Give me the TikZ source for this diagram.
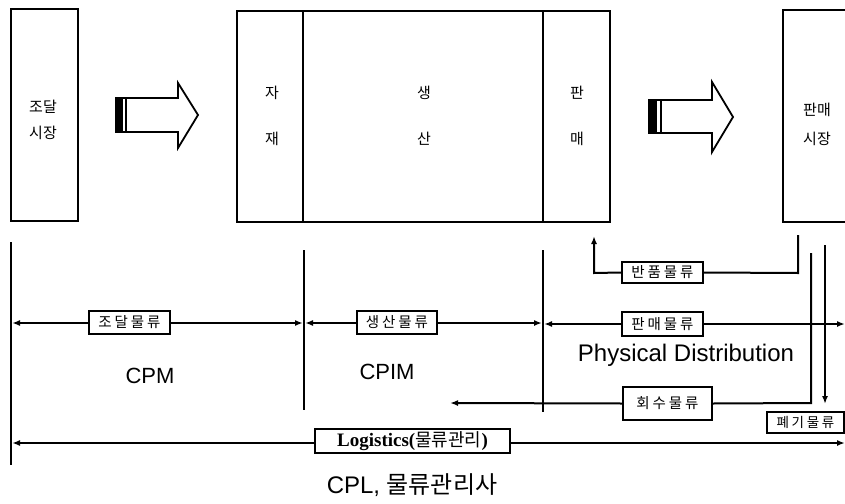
\documentclass[tikz,border=0pt]{standalone}
\usepackage{fontspec}
\setmainfont{Liberation Sans}
\newfontfamily\kr{Noto Sans CJK KR}
\newfontfamily\krs[LetterSpace=20]{Noto Sans CJK KR}
\newfontfamily\tms{Liberation Serif}
\usetikzlibrary{arrows.meta}
\begin{document}
\begin{tikzpicture}[x=1pt,y=-1pt,line join=miter,
  blk/.style={draw,line width=2.2pt},
  ln/.style={line width=2pt},
  arr/.style={ln,-{Latex[length=8pt,width=6pt]}},
  lab/.style={draw,line width=2pt,fill=white,inner sep=0pt,font=\krs\fontsize{14.5}{14.5}\selectfont},
  big/.style={font=\kr\fontsize{15}{15}\selectfont,inner sep=0pt},
  ttl/.style={font=\fontsize{22}{22}\selectfont,inner sep=0pt}]
\useasboundingbox (0,0) rectangle (845,503);

% top boxes
\draw[blk] (11,9) rectangle (78,221);
\node[big] (t1) at (43,107) {조달};
\node[big] (t2) at (43,133) {시장};

\draw[blk] (237,11) rectangle (610,222);
\draw[blk] (303,11) -- (303,222);
\draw[blk] (543,11) -- (543,222);
\node[big] (ja) at (272,93) {자};
\node[big] (jae) at (272,139) {재};
\node[big] (sa) at (424,93) {생};
\node[big] (san) at (424,139) {산};
\node[big] (pa) at (577,93) {판};
\node[big] (mae) at (577,139) {매};

\draw[blk] (850,10) -- (783,10) -- (783,222) -- (850,222);
\node[big] (m1) at (817,110) {판매};
\node[big] (m2) at (817,139) {시장};

% block arrows
\draw[line width=1.8pt,fill=white] (116,98) -- (178,98) -- (178,83) -- (198,115) -- (178,148) -- (178,132) -- (116,132) -- cycle;
\fill (116,98) rectangle (123,132);
\draw[line width=1.5pt] (126,98) -- (126,132);

\draw[line width=1.8pt,fill=white] (649,100) -- (712,100) -- (712,82) -- (733,117) -- (712,152) -- (712,133) -- (649,133) -- cycle;
\fill (649,100) rectangle (657,133);
\draw[line width=1.5pt] (661,100) -- (661,133);

% vertical lines
\coordinate (v1t) at (11,242); \coordinate (v1b) at (11,465);
\coordinate (v2t) at (304,250); \coordinate (v2b) at (304,410);
\coordinate (v3t) at (543,250); \coordinate (v3b) at (543,412);
\draw[ln] (v1t) -- (v1b);
\draw[ln] (v2t) -- (v2b);
\draw[ln] (v3t) -- (v3b);

% flow labels
\node[lab,minimum width=81pt,minimum height=23pt] (jd) at (129.5,322) {조달물류};
\node[lab,minimum width=80pt,minimum height=23pt] (ss) at (397,322) {생산물류};
\node[lab,minimum width=81pt,minimum height=24pt] (pm) at (662.5,324) {판매물류};
\node[lab,minimum width=81pt,minimum height=21pt] (bp) at (662.5,272.5) {반품물류};
\node[lab,minimum width=89pt,minimum height=33pt] (hs) at (667.5,403.5) {회수물류};
\node[lab,minimum width=77pt,minimum height=21pt,font=\krs\fontsize{13.5}{13.5}\selectfont] (pg) at (805.5,422.5) {폐기물류};
\node[lab,minimum width=195pt,minimum height=24pt,font=\tms\bfseries\fontsize{19}{19}\selectfont] (lg) at (412.5,441) {Logistics({\kr\mdseries\fontsize{18}{18}\selectfont 물류관리})};

% horizontal flows
\coordinate (jdL) at (12,323); \coordinate (jdR) at (303,323);
\draw[arr] (jd.west |- jdL) -- (jdL);
\draw[arr] (jd.east |- jdR) -- (jdR);
\coordinate (ssL) at (305,323); \coordinate (ssR) at (542,323);
\draw[arr] (ss.west |- ssL) -- (ssL);
\draw[arr] (ss.east |- ssR) -- (ssR);
\coordinate (pmL) at (544,324); \coordinate (pmR) at (845,324);
\draw[arr] (pm.west) -- (pmL);
\draw[arr] (pm.east) -- (pmR);

% returns
\coordinate (bpS) at (798,235); \coordinate (bpE) at (594,236);
\draw[ln] (bpS) -- (798,273) -- (bp.east);
\draw[arr] (bp.west) -- (594,273) -- (bpE);

\coordinate (hsS) at (811,253); \coordinate (hsE) at (450,403);
\draw[ln] (hsS) -- (811,403) -- (hs.east);
\draw[arr] (hs.west) -- (hsE);

\coordinate (pgS) at (825,245); \coordinate (pgE) at (825,404);
\draw[arr] (pgS) -- (pgE);

\coordinate (lgL) at (12,443); \coordinate (lgR) at (845,443);
\draw[arr] (lg.west |- lgL) -- (lgL);
\draw[arr] (lg.east |- lgR) -- (lgR);

% titles
\node[ttl] (cpm) at (150,376) {CPM};
\node[ttl] (cpim) at (387,372) {CPIM};
\node[ttl,font=\fontsize{24}{24}\selectfont] (pd) at (686,355) {Physical Distribution};
\node[ttl,font=\fontsize{24}{24}\selectfont] (cpl) at (412,485) {CPL, {\kr 물류관리사}};
\end{tikzpicture}
\end{document}
